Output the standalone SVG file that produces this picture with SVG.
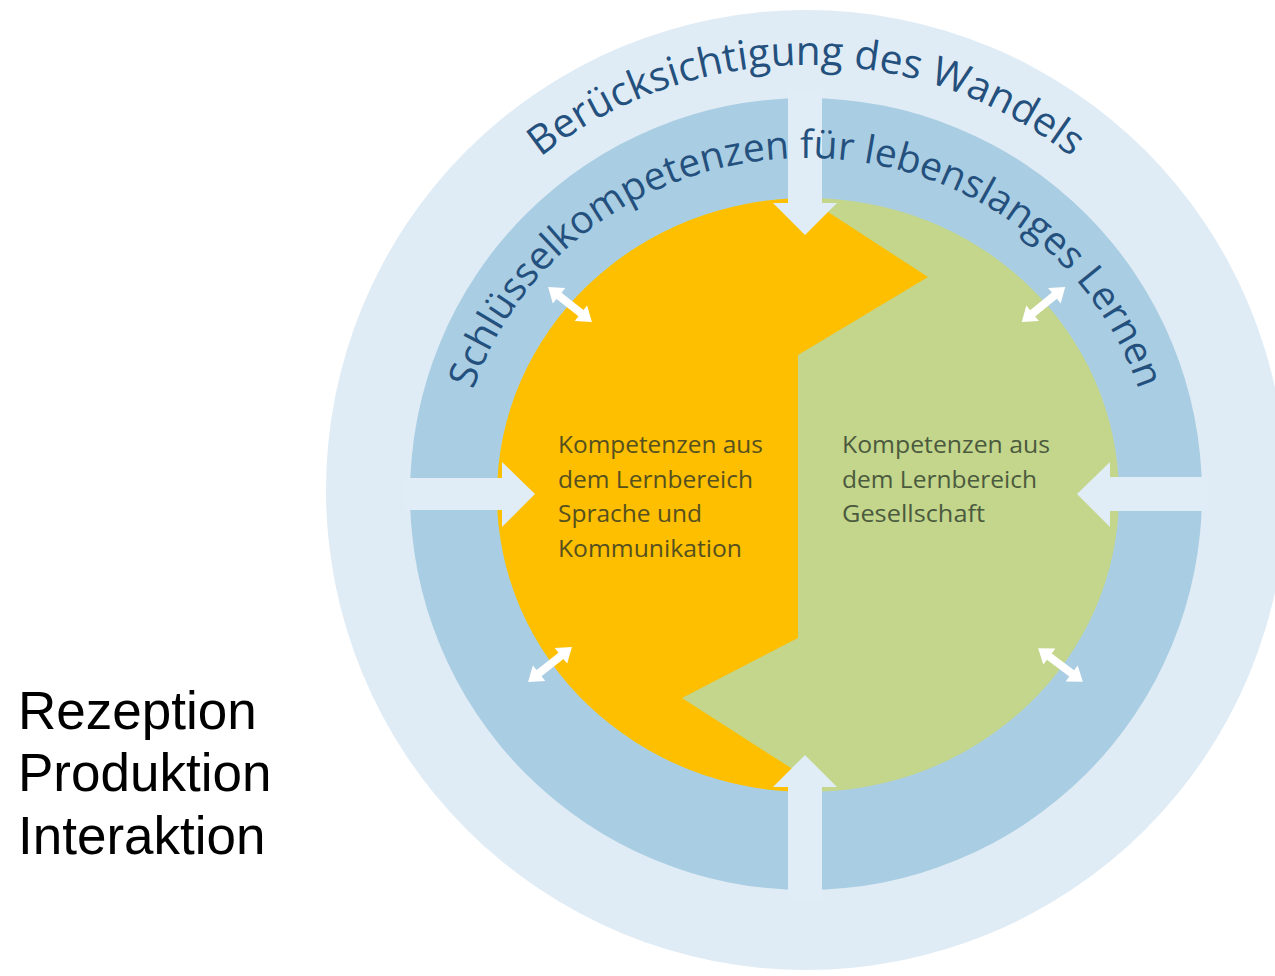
<svg xmlns="http://www.w3.org/2000/svg" width="1275" height="976" viewBox="0 0 1275 976">
<style>
.arc{font-family:"Open Sans","Noto Sans",sans-serif;fill:#24507e}
.lbl{font-family:"Open Sans","Noto Sans",sans-serif;font-size:23px}
.side{font-family:"Liberation Sans",Arial,sans-serif;font-size:53px;fill:#000}
.gap{fill:#e1edf6}
.dbl{fill:#ffffff}
</style>
<defs>
<path id="outerArc" d="M 377 494 A 429 429 0 0 1 1235 494"/>
<path id="innerArc" d="M 456 494 A 350 336 0 0 1 1156 494"/>
<clipPath id="orangeClip">
<polygon points="300,100 805,100 805,197 928,277 798,355 798,638 682,698 805,777 805,900 300,900"/>
</clipPath>
<path id="dblArrow" d="M -28 0 L -14 -10 L -14 -4 L 14 -4 L 14 -10 L 28 0 L 14 10 L 14 4 L -14 4 L -14 10 Z"/>
</defs>
<rect width="1275" height="976" fill="#ffffff"/>
<g id="outer-circle">
<circle cx="806" cy="490" r="480" fill="#e0ecf5"/>
</g>
<g id="ring">
<circle cx="806" cy="494" r="396" fill="#a9cde2"/>
</g>
<g id="core">
<ellipse cx="808" cy="495" rx="311" ry="297" fill="#c3d68b"/>
<ellipse cx="808" cy="495" rx="311" ry="297" fill="#fdbf00" clip-path="url(#orangeClip)"/>
</g>
<g id="connectors">
<path class="gap" d="M 788 90 L 822 90 L 822 203 L 837 203 L 805 235 L 773 203 L 788 203 Z"/>
<path class="gap" d="M 788 900 L 822 900 L 822 787 L 837 787 L 805 755 L 773 787 L 788 787 Z"/>
<path class="gap" d="M 405 478 L 405 510 L 502 510 L 502 527 L 535 494 L 502 462 L 502 478 Z"/>
<path class="gap" d="M 1208 477 L 1208 511 L 1110 511 L 1110 527 L 1077 494 L 1110 462 L 1110 477 Z"/>
<use href="#dblArrow" class="dbl" transform="translate(570 304.5) rotate(38.5)"/>
<use href="#dblArrow" class="dbl" transform="translate(1043.5 304.5) rotate(-39)"/>
<use href="#dblArrow" class="dbl" transform="translate(550 664.5) rotate(-38.5)"/>
<use href="#dblArrow" class="dbl" transform="translate(1060.5 665) rotate(37)"/>
</g>
<g id="label-wandel">
<text class="arc" font-size="40.5"><textPath href="#outerArc" startOffset="50%" text-anchor="middle">Berücksichtigung des Wandels</textPath></text>
</g>
<g id="label-schluessel">
<text class="arc" font-size="39"><textPath href="#innerArc" startOffset="50%" text-anchor="middle">Schlüsselkompetenzen für lebenslanges Lernen</textPath></text>
</g>
<g id="node-sprache" class="lbl" fill="#56501f">
<text x="558" y="453" textLength="205" lengthAdjust="spacingAndGlyphs">Kompetenzen aus</text>
<text x="558" y="488" textLength="195" lengthAdjust="spacingAndGlyphs">dem Lernbereich</text>
<text x="558" y="522" textLength="144" lengthAdjust="spacingAndGlyphs">Sprache und</text>
<text x="558" y="557" textLength="184" lengthAdjust="spacingAndGlyphs">Kommunikation</text>
</g>
<g id="node-gesellschaft" class="lbl" fill="#4b5a3e">
<text x="842" y="453" textLength="208" lengthAdjust="spacingAndGlyphs">Kompetenzen aus</text>
<text x="842" y="488" textLength="195" lengthAdjust="spacingAndGlyphs">dem Lernbereich</text>
<text x="842" y="522" textLength="143" lengthAdjust="spacingAndGlyphs">Gesellschaft</text>
</g>
<g id="side-list" class="side">
<text x="18" y="729">Rezeption</text>
<text x="18" y="791">Produktion</text>
<text x="18" y="854">Interaktion</text>
</g>
</svg>
